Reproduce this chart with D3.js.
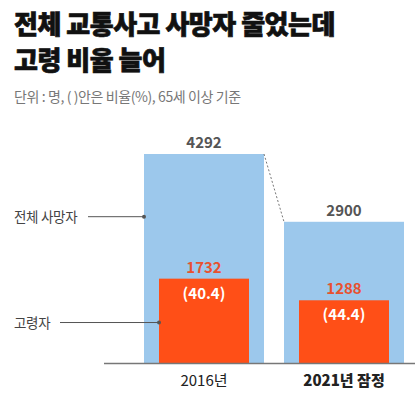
<!DOCTYPE html>
<html>
<head>
<meta charset="utf-8">
<script src="https://cdn.jsdelivr.net/npm/d3@7"></script>
<style>
  body { margin: 0; background: #fff; }
  svg text { font-family: "Noto Sans CJK KR", "Noto Sans", sans-serif; }
</style>
</head>
<body>
<svg id="chart" width="415" height="395"></svg>
<script>
// chart data
var years = ["2016년", "2021년 잠정"];
var totalDeaths = [4292, 2900];
var elderlyDeaths = [1732, 1288];
var elderlyShare = ["(40.4)", "(44.4)"];

var width = 415, height = 395;
const MARGIN = { LEFT: 134, RIGHT: 1, TOP: 154, BOTTOM: 32 };

let svg = d3.select("#chart");

// Title and subtitle
["전체 교통사고 사망자 줄었는데", "고령 비율 늘어"].forEach(function (t, i) {
  svg.append("text")
    .attr("x", 14).attr("y", 34 + i * 36)
    .style("font-size", "26px").style("font-weight", 900)
    .style("letter-spacing", "-0.5px")
    .attr("fill", "#111")
    .attr("stroke", "#111").attr("stroke-width", 0.7)
    .text(t);
});
svg.append("text")
  .attr("x", 14).attr("y", 102)
  .style("font-size", "14px")
  .style("letter-spacing", "-0.4px")
  .attr("fill", "#777")
  .text("단위 : 명, (  )안은 비율(%), 65세 이상 기준");

// scales
let baseY = height - MARGIN.BOTTOM;
let xScale = d3.scaleBand()
  .domain(years)
  .range([MARGIN.LEFT, 414])
  .paddingInner(20 / 140)
  .paddingOuter(10 / 140);

let yScale = d3.scaleLinear()
  .domain([0, 4292])
  .range([baseY, MARGIN.TOP]);

let bw = xScale.bandwidth();
let inner = bw * 0.75;

// total bars
svg.selectAll(".total")
  .data(totalDeaths)
  .enter().append("rect")
  .attr("class", "total")
  .attr("x", (d, i) => xScale(years[i]))
  .attr("y", d => yScale(d))
  .attr("width", bw)
  .attr("height", d => baseY - yScale(d))
  .attr("fill", "#9cc8ec");

// elderly bars
svg.selectAll(".elder")
  .data(elderlyDeaths)
  .enter().append("rect")
  .attr("class", "elder")
  .attr("x", (d, i) => xScale(years[i]) + (bw - inner) / 2)
  .attr("y", d => yScale(d))
  .attr("width", inner)
  .attr("height", d => baseY - yScale(d))
  .attr("fill", "#ff4f17");

// dotted connector between bar tops
svg.append("line")
  .attr("x1", xScale(years[0]) + bw)
  .attr("y1", yScale(totalDeaths[0]))
  .attr("x2", xScale(years[1]))
  .attr("y2", yScale(totalDeaths[1]))
  .attr("stroke", "#777")
  .attr("stroke-width", 1)
  .attr("stroke-dasharray", "2,2");

// value labels
svg.selectAll(".totalLbl")
  .data(totalDeaths)
  .enter().append("text")
  .attr("x", (d, i) => xScale(years[i]) + bw / 2)
  .attr("y", d => yScale(d) - 6)
  .attr("text-anchor", "middle")
  .style("font-size", "15px").style("font-weight", 600)
  .attr("fill", "#555")
  .text(d => d);

svg.selectAll(".elderLbl")
  .data(elderlyDeaths)
  .enter().append("text")
  .attr("x", (d, i) => xScale(years[i]) + bw / 2)
  .attr("y", d => yScale(d) - 6)
  .attr("text-anchor", "middle")
  .style("font-size", "15px").style("font-weight", 700)
  .attr("fill", "#e8512f")
  .text(d => d);

svg.selectAll(".shareLbl")
  .data(elderlyShare)
  .enter().append("text")
  .attr("x", (d, i) => xScale(years[i]) + bw / 2)
  .attr("y", (d, i) => yScale(elderlyDeaths[i]) + 20)
  .attr("text-anchor", "middle")
  .style("font-size", "15px").style("font-weight", 700)
  .attr("fill", "#fff")
  .text(d => d);

// x axis
let xAxis = d3.axisBottom(xScale).tickSize(0).tickPadding(12);
let gx = svg.append("g")
  .attr("transform", "translate(0," + baseY + ")")
  .call(xAxis);
gx.select(".domain")
  .attr("d", "M104,0.5H415")
  .attr("stroke", "#777")
  .attr("stroke-width", 1.5);
gx.selectAll("text")
  .style("font-family", "'Noto Sans CJK KR', sans-serif")
  .style("font-size", "15px")
  .attr("fill", "#222")
  .style("font-weight", (d, i) => i == 1 ? 800 : 400);

// pointer annotations
let notes = [
  { label: "전체 사망자", y: yScale(totalDeaths[0] * 0.7), x2: xScale(years[0]), x1: 88 },
  { label: "고령자", y: yScale(elderlyDeaths[0] * 0.48), x2: xScale(years[0]) + (bw - inner) / 2, x1: 60 }
];
notes.forEach(function (n) {
  svg.append("text")
    .attr("x", 14).attr("y", n.y + 5)
    .style("font-size", "13.5px")
    .style("letter-spacing", "-0.3px")
    .attr("fill", "#444")
    .text(n.label);
  svg.append("line")
    .attr("x1", n.x1).attr("x2", n.x2)
    .attr("y1", n.y).attr("y2", n.y)
    .attr("stroke", "#555").attr("stroke-width", 1);
  svg.append("circle")
    .attr("cx", n.x2).attr("cy", n.y).attr("r", 2)
    .attr("fill", "#555");
});
</script>
</body>
</html>
